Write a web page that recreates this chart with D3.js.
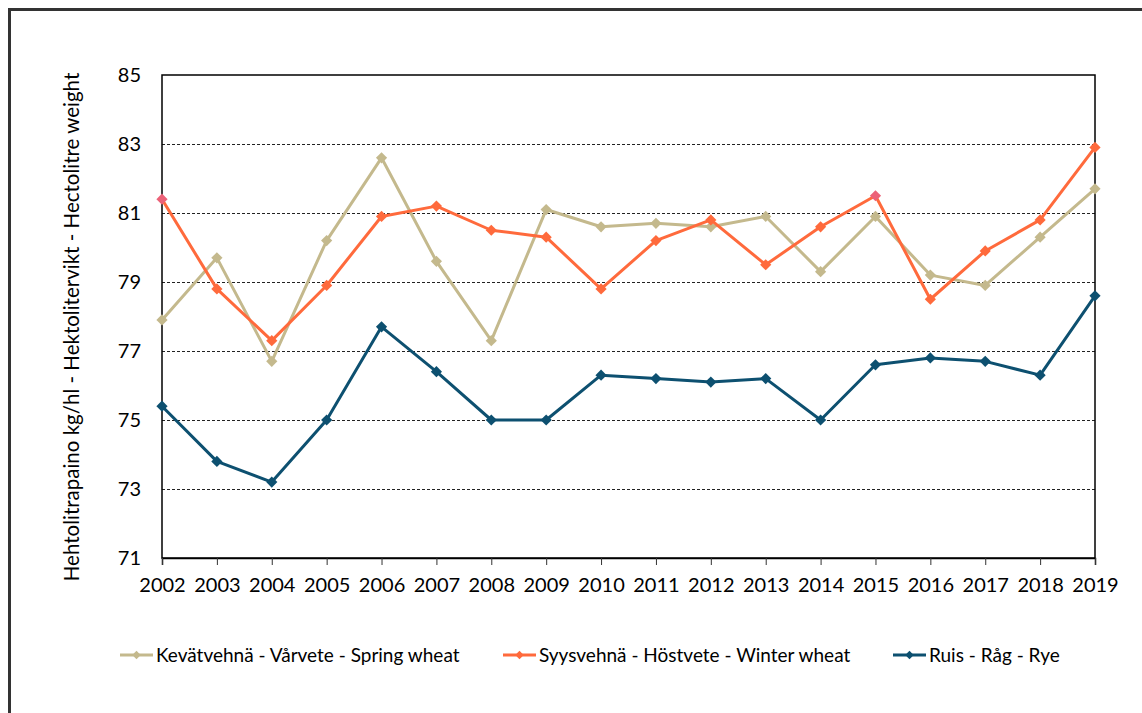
<!DOCTYPE html>
<html>
<head>
<meta charset="utf-8">
<script src="https://cdn.jsdelivr.net/npm/d3@7"></script>
<style>
  body { margin: 0; background: #fff; }
  svg text { font-family: Lato, "Open Sans", sans-serif; fill: #000; }
</style>
</head>
<body>
<svg id="chart" width="1142" height="713"></svg>
<script>
// Data
const years = [2002, 2003, 2004, 2005, 2006, 2007, 2008, 2009, 2010, 2011, 2012, 2013, 2014, 2015, 2016, 2017, 2018, 2019];
const springWheat = [77.9, 79.7, 76.7, 80.2, 82.6, 79.6, 77.3, 81.1, 80.6, 80.7, 80.6, 80.9, 79.3, 80.9, 79.2, 78.9, 80.3, 81.7];
const winterWheat = [81.4, 78.8, 77.3, 78.9, 80.9, 81.2, 80.5, 80.3, 78.8, 80.2, 80.8, 79.5, 80.6, 81.5, 78.5, 79.9, 80.8, 82.9];
const rye = [75.4, 73.8, 73.2, 75.0, 77.7, 76.4, 75.0, 75.0, 76.3, 76.2, 76.1, 76.2, 75.0, 76.6, 76.8, 76.7, 76.3, 78.6];
const yTicks = [71, 73, 75, 77, 79, 81, 83, 85];
const seriesNames = [
  "Kevätvehnä - Vårvete - Spring wheat",
  "Syysvehnä - Höstvete - Winter wheat",
  "Ruis - Råg - Rye"
];
const yLabel = "Hehtolitrapaino kg/hl - Hektolitervikt - Hectolitre weight";
// winter wheat points drawn with a pink marker in the original
const pinkYears = [2002, 2015];

const series = [
  { name: seriesNames[0], values: springWheat, color: "#c4b98d" },
  { name: seriesNames[1], values: winterWheat, color: "#ff6a3c", pink: pinkYears },
  { name: seriesNames[2], values: rye, color: "#0d5070" }
];

const svg = d3.select("#chart");

// Outer frame
svg.append("path")
  .attr("d", "M9.5,760 V9.5 H1150")
  .attr("fill", "none")
  .attr("stroke", "#333")
  .attr("stroke-width", 3);

// Scales
const x = d3.scalePoint().domain(years).range([162, 1095]);
const y = d3.scaleLinear().domain([71, 85]).range([558, 75]);

// Gridlines
svg.append("g")
  .selectAll("line")
  .data(yTicks.slice(1, -1))
  .join("line")
  .attr("x1", 162).attr("x2", 1095)
  .attr("y1", (d) => Math.round(y(d)) + 0.5)
  .attr("y2", (d) => Math.round(y(d)) + 0.5)
  .attr("stroke", "#222")
  .attr("stroke-width", 1)
  .attr("stroke-dasharray", "3,2");

// Plot box
svg.append("rect")
  .attr("x", 162).attr("y", 75)
  .attr("width", 1095 - 162).attr("height", 558 - 75)
  .attr("fill", "none")
  .attr("stroke", "#000")
  .attr("stroke-width", 1.5);

// X axis
const xAxis = svg.append("g")
  .attr("transform", "translate(0,558)")
  .call(d3.axisBottom(x).tickSize(7).tickPadding(13));
xAxis.select(".domain").attr("stroke", "#000").attr("stroke-width", 1.5);
xAxis.selectAll(".tick line").attr("stroke", "#333");
xAxis.selectAll("text").style("font-size", "20px").attr("fill", "#000");

// Y axis labels
const yAxis = svg.append("g")
  .attr("transform", "translate(162,0)")
  .call(d3.axisLeft(y).tickValues(yTicks).tickSize(0).tickPadding(21));
yAxis.select(".domain").remove();
yAxis.selectAll("text").style("font-size", "20px").attr("fill", "#000");

// Axis title
svg.append("text")
  .attr("transform", "translate(79,327) rotate(-90)")
  .attr("text-anchor", "middle")
  .style("font-size", "20.5px")
  .text(yLabel);

// Lines and markers
const line = d3.line()
  .x((d, i) => x(years[i]))
  .y((d) => y(d));

const diamond = d3.symbol().type(d3.symbolDiamond2).size(80);
const legendDiamond = d3.symbol().type(d3.symbolDiamond2).size(45);

series.forEach((s) => {
  svg.append("path")
    .datum(s.values)
    .attr("fill", "none")
    .attr("stroke", s.color)
    .attr("stroke-width", 3)
    .attr("stroke-linejoin", "round")
    .attr("d", line);

  svg.append("g")
    .selectAll("path")
    .data(s.values)
    .join("path")
    .attr("d", diamond)
    .attr("transform", (d, i) => `translate(${x(years[i])},${y(d)})`)
    .attr("fill", (d, i) => (s.pink && s.pink.includes(years[i]) ? "#ec6278" : s.color));
});

// Legend
const legendX = [120, 503, 893];
const legend = svg.append("g").attr("transform", "translate(0,655)");
series.forEach((s, i) => {
  const g = legend.append("g").attr("transform", `translate(${legendX[i]},0)`);
  g.append("line")
    .attr("x1", 0).attr("x2", 33)
    .attr("stroke", s.color)
    .attr("stroke-width", 3);
  g.append("path")
    .attr("d", legendDiamond)
    .attr("transform", "translate(16.5,0)")
    .attr("fill", s.color);
  g.append("text")
    .attr("x", 36)
    .attr("dy", "0.35em")
    .style("font-size", "19px")
    .text(s.name);
});
</script>
</body>
</html>
